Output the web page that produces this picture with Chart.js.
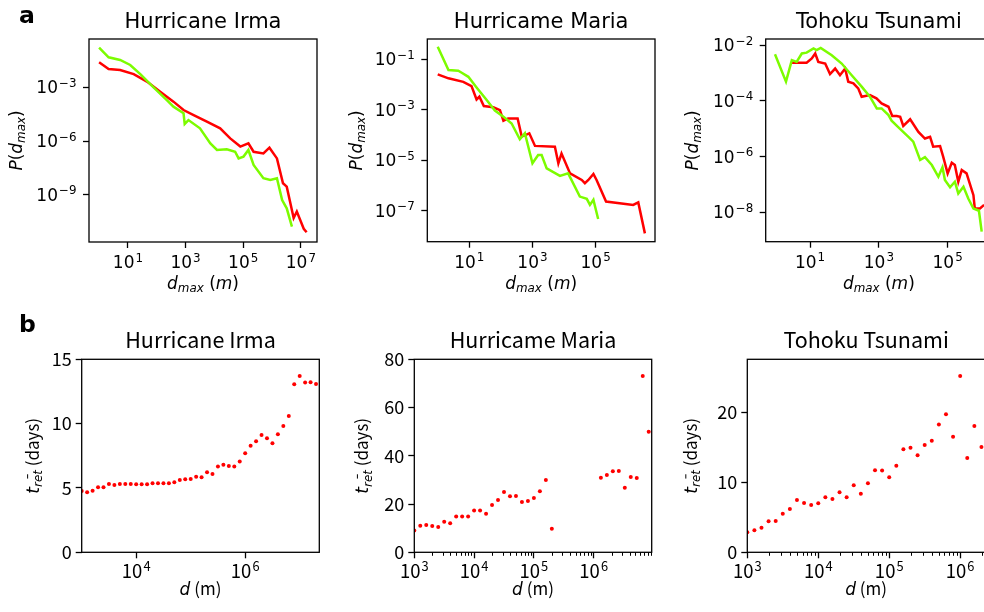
<!DOCTYPE html>
<html>
<head>
<meta charset="utf-8">
<title>Displacement distributions and return times</title>
<script src="https://cdn.jsdelivr.net/npm/chart.js@4.4.1/dist/chart.umd.min.js"></script>
<style>
  html, body { margin: 0; padding: 0; background: #fff; overflow: hidden; }
  body { width: 984px; height: 612px; position: relative; }
  canvas { position: absolute; left: 0; top: 0; }
</style>
</head>
<body>
<canvas id="a1" width="1000" height="612"></canvas>
<canvas id="a2" width="1000" height="612"></canvas>
<canvas id="a3" width="1000" height="612"></canvas>
<canvas id="b1" width="1000" height="612"></canvas>
<canvas id="b2" width="1000" height="612"></canvas>
<canvas id="b3" width="1000" height="612"></canvas>
<script>
// ---- row a: P(d_max), both axes as log10 values ----
const irmaRedD   = [0.0, 0.33, 0.73, 1.2, 1.66, 2.12, 2.58, 2.93, 3.28, 3.74, 4.2, 4.55, 4.9, 5.18, 5.36, 5.7, 5.91, 6.17, 6.38, 6.51, 6.75, 6.86, 7.1, 7.2];
const irmaRedP   = [-1.6, -1.98, -2.03, -2.26, -2.68, -3.24, -3.8, -4.27, -4.55, -4.92, -5.29, -5.85, -6.31, -6.13, -6.6, -6.69, -6.37, -6.97, -8.36, -8.55, -10.3, -9.94, -10.9, -11.1];
const irmaGreenD = [0.0, 0.33, 0.73, 1.08, 1.43, 1.89, 2.35, 2.58, 2.93, 2.97, 3.1, 3.5, 3.86, 4.09, 4.43, 4.72, 4.84, 5.01, 5.18, 5.36, 5.7, 5.94, 6.17, 6.35, 6.51, 6.69];
const irmaGreenP = [-0.78, -1.32, -1.47, -1.75, -2.26, -3.0, -3.71, -4.08, -4.45, -5.05, -4.83, -5.29, -6.13, -6.5, -6.46, -6.6, -6.97, -6.87, -6.5, -7.34, -8.08, -8.18, -8.08, -9.3, -9.76, -10.78];

const mariaRedD   = [0.0, 0.34, 0.81, 1.07, 1.23, 1.32, 1.46, 1.76, 1.97, 2.08, 2.23, 2.53, 2.66, 2.9, 3.08, 3.71, 3.82, 3.92, 4.19, 4.56, 4.66, 4.77, 4.93, 5.03, 5.33, 6.19, 6.35, 6.56];
const mariaRedP   = [-1.59, -1.75, -1.89, -2.06, -2.59, -2.48, -2.85, -2.9, -3.01, -3.43, -3.34, -3.34, -4.06, -3.93, -4.43, -4.46, -5.12, -4.73, -5.52, -5.78, -5.91, -5.78, -5.54, -5.78, -6.64, -6.77, -6.67, -7.9];
const mariaGreenD = [0.0, 0.34, 0.65, 0.76, 0.97, 1.23, 1.55, 1.81, 2.08, 2.34, 2.6, 2.76, 3.0, 3.18, 3.29, 3.45, 3.87, 4.13, 4.5, 4.72, 4.82, 4.93, 5.08];
const mariaGreenP = [-0.5, -1.42, -1.45, -1.53, -1.69, -2.11, -2.61, -3.03, -3.27, -3.54, -4.17, -3.93, -5.12, -4.79, -4.79, -5.32, -5.62, -5.52, -6.44, -6.53, -6.77, -6.57, -7.33];

const tohokuRedD   = [0.47, 0.9, 1.05, 1.15, 1.24, 1.44, 1.58, 1.73, 1.87, 2.02, 2.11, 2.26, 2.4, 2.5, 2.74, 2.93, 3.08, 3.28, 3.39, 3.52, 3.62, 3.71, 3.91, 4.15, 4.34, 4.49, 4.58, 4.78, 4.87, 5.0, 5.12, 5.21, 5.31, 5.41, 5.55, 5.75, 5.79, 5.94, 6.06];
const tohokuRedP   = [-2.63, -2.63, -2.48, -2.3, -2.6, -2.66, -3.04, -2.84, -3.08, -2.84, -3.31, -3.37, -3.55, -3.85, -3.79, -3.91, -4.09, -4.21, -4.54, -4.54, -4.57, -4.9, -4.66, -5.11, -5.35, -5.29, -5.64, -5.62, -6.0, -6.6, -6.22, -6.3, -6.9, -6.48, -6.6, -7.38, -7.86, -7.86, -7.73];
const tohokuGreenD = [-0.02, 0.3, 0.47, 0.61, 0.76, 0.9, 1.1, 1.19, 1.31, 1.63, 1.92, 2.21, 2.5, 2.74, 2.94, 3.08, 3.28, 3.37, 3.57, 3.86, 4.0, 4.2, 4.34, 4.54, 4.73, 4.85, 4.92, 5.07, 5.21, 5.31, 5.46, 5.6, 5.75, 5.91, 5.99];
const tohokuGreenP = [-2.33, -3.31, -2.54, -2.6, -2.3, -2.27, -2.12, -2.18, -2.1, -2.36, -2.66, -3.08, -3.49, -3.85, -4.27, -4.27, -4.51, -4.71, -4.95, -5.29, -5.46, -6.12, -6.02, -6.3, -6.72, -6.38, -6.84, -7.1, -6.9, -7.32, -7.08, -7.5, -7.86, -7.94, -8.69];

// ---- row b: mean return time (days) against log10 d ----
const irmaLogD = [3.0, 3.1, 3.2, 3.3, 3.4, 3.5, 3.6, 3.7, 3.8, 3.9, 4.0, 4.1, 4.2, 4.3, 4.4, 4.5, 4.6, 4.7, 4.8, 4.9, 5.0, 5.1, 5.2, 5.3, 5.4, 5.5, 5.6, 5.7, 5.8, 5.9, 6.0, 6.1, 6.2, 6.3, 6.4, 6.5, 6.6, 6.7, 6.8, 6.9, 7.0, 7.1, 7.2, 7.3];
const irmaRet  = [4.77, 4.66, 4.79, 5.05, 5.05, 5.31, 5.23, 5.31, 5.31, 5.31, 5.28, 5.28, 5.28, 5.36, 5.36, 5.36, 5.36, 5.44, 5.62, 5.67, 5.7, 5.88, 5.83, 6.22, 6.09, 6.66, 6.81, 6.71, 6.66, 7.05, 7.69, 8.29, 8.63, 9.12, 8.86, 8.47, 9.17, 9.82, 10.6, 13.06, 13.7, 13.19, 13.21, 13.08];

const mariaLogD = [3.0, 3.1, 3.2, 3.3, 3.4, 3.5, 3.6, 3.7, 3.8, 3.9, 4.0, 4.1, 4.2, 4.3, 4.4, 4.5, 4.6, 4.7, 4.8, 4.9, 5.0, 5.1, 5.2, 5.3, 6.12, 6.22, 6.32, 6.42, 6.52, 6.62, 6.72, 6.82, 6.92];
const mariaRet  = [9.0, 11.05, 11.3, 10.9, 10.5, 12.7, 12.0, 14.8, 14.8, 14.8, 17.3, 17.3, 16.0, 19.6, 21.7, 25.0, 23.2, 23.3, 20.9, 21.3, 22.5, 25.3, 30.0, 9.8, 30.9, 32.0, 33.6, 33.7, 26.8, 31.2, 30.8, 73.1, 50.0];

const tohokuLogD = [3.0, 3.1, 3.2, 3.3, 3.4, 3.5, 3.6, 3.7, 3.8, 3.9, 4.0, 4.1, 4.2, 4.3, 4.4, 4.5, 4.6, 4.7, 4.8, 4.9, 5.0, 5.1, 5.2, 5.3, 5.4, 5.5, 5.6, 5.7, 5.8, 5.9, 6.0, 6.1, 6.2, 6.3];
const tohokuRet  = [2.86, 3.14, 3.52, 4.43, 4.48, 5.52, 6.19, 7.48, 7.05, 6.76, 7.0, 7.86, 7.62, 8.57, 7.86, 9.57, 8.38, 9.86, 11.71, 11.67, 10.71, 12.38, 14.71, 14.95, 13.86, 15.33, 15.95, 18.24, 19.71, 16.52, 25.19, 13.48, 18.05, 15.05];

// tick labels (exponents for the log axes, plain values for linear ones)
const irmaXTicks = [1, 3, 5, 7],  irmaYTicks = [-3, -6, -9];
const mariaXTicks = [1, 3, 5],    mariaYTicks = [-1, -3, -5, -7];
const tohokuXTicks = [1, 3, 5],   tohokuYTicks = [-2, -4, -6, -8];
const irmaRetXTicks = [4, 6],          irmaRetYTicks = [0, 5, 10, 15];
const mariaRetXTicks = [3, 4, 5, 6],   mariaRetYTicks = [0, 20, 40, 60, 80];
const tohokuRetXTicks = [3, 4, 5, 6],  tohokuRetYTicks = [0, 10, 20];

const titles = ['Hurricane Irma', 'Hurricame Maria', 'Tohoku Tsunami'];

const RED = '#ff0000', GREEN = '#7cfc00', INK = '#000000';
const W = 1000, H = 612;
const SANS = 'DejaVu Sans', CJK = 'Noto Sans CJK JP';

const logPts = (xs, ys) => xs.map((x, i) => ({ x: Math.pow(10, x), y: Math.pow(10, ys[i]) }));
const linPts = (xs, ys) => xs.map((x, i) => ({ x: Math.pow(10, x), y: ys[i] }));

// "10" with a raised exponent, like mathtext
function drawPow(ctx, e, x, y, align, fam, size) {
  const exp = e < 0 ? '\u2212' + (-e) : String(e);
  const base = size + 'px "' + fam + '"';
  const sup = (size * 0.7).toFixed(1) + 'px "' + fam + '"';
  ctx.font = base; const w1 = ctx.measureText('10').width;
  ctx.font = sup;  const w2 = ctx.measureText(exp).width;
  const total = w1 + 1 + w2;
  const x0 = align === 'center' ? x - total / 2 : x - total;
  ctx.textAlign = 'left'; ctx.textBaseline = 'alphabetic';
  ctx.font = base; ctx.fillText('10', x0, y);
  ctx.font = sup;  ctx.fillText(exp, x0 + w1 + 1, y - size * 0.38);
}

// mixed italic / subscript label, centred on x, baseline at y
function drawRich(ctx, segs, x, y, fam, size, rotated) {
  const parts = segs.map(s => {
    const sz = s.sub ? size * 0.7 : size;
    const f = (s.it ? 'italic ' : '') + sz.toFixed(1) + 'px "' + (s.math ? SANS : fam) + '"';
    ctx.font = f;
    return { s, f, w: ctx.measureText(s.t).width };
  });
  const total = parts.reduce((a, p) => a + p.w, 0);
  ctx.save();
  ctx.translate(x, y);
  if (rotated) ctx.rotate(-Math.PI / 2);
  ctx.textAlign = 'left'; ctx.textBaseline = 'alphabetic';
  let cx = -total / 2;
  for (const p of parts) {
    ctx.font = p.f;
    ctx.fillText(p.s.t, cx, p.s.sub ? size * 0.2 : 0);
    if (p.s.bar) {
      ctx.lineWidth = 1;
      ctx.beginPath();
      ctx.moveTo(cx + p.w * 0.5, -size * 0.64);
      ctx.lineTo(cx + p.w * 0.5 + 4.3, -size * 0.64);
      ctx.stroke();
    }
    cx += p.w;
  }
  ctx.restore();
}

const decor = {
  id: 'decor',
  afterDraw(chart, args, o) {
    const ctx = chart.ctx, a = chart.chartArea;
    const xs = chart.scales.x, ys = chart.scales.y;
    ctx.save();
    ctx.fillStyle = INK; ctx.strokeStyle = INK;

    if (o.minorX) {
      ctx.lineWidth = 1;
      const lo = Math.floor(Math.log10(xs.min)), hi = Math.ceil(Math.log10(xs.max));
      for (let n = lo; n <= hi; n++) {
        for (let m = 2; m <= 9; m++) {
          const v = m * Math.pow(10, n);
          if (v < xs.min || v > xs.max) continue;
          const px = Math.round(xs.getPixelForValue(v)) + 0.5;
          ctx.beginPath(); ctx.moveTo(px, a.bottom); ctx.lineTo(px, a.bottom + 3.5); ctx.stroke();
        }
      }
    }
    if (o.powX) o.powX.forEach(e => drawPow(ctx, e, xs.getPixelForValue(Math.pow(10, e)), a.bottom + 26, 'center', o.fam, o.tickSize));
    if (o.powY) o.powY.forEach(e => drawPow(ctx, e, a.left - 12.5, ys.getPixelForValue(Math.pow(10, e)) + 6, 'right', o.fam, o.tickSize));

    ctx.lineWidth = 1.3;
    ctx.strokeRect(a.left, a.top, a.right - a.left, a.bottom - a.top);

    ctx.textAlign = 'center'; ctx.textBaseline = 'alphabetic';
    ctx.font = o.titleSize + 'px "' + o.fam + '"';
    ctx.fillText(o.title, (a.left + a.right) / 2, o.titleY);

    drawRich(ctx, o.xlab, (a.left + a.right) / 2, o.xlabY, o.fam, 17, false);
    drawRich(ctx, o.ylab, o.ylabX, (a.top + a.bottom) / 2, o.fam, 17, true);

    if (o.tag) {
      ctx.textAlign = 'left';
      ctx.font = 'bold 23.5px "' + SANS + '"';
      ctx.fillText(o.tag.text, o.tag.x, o.tag.y);
    }
    ctx.restore();
  }
};

function axis(type, min, max, box, side, tickVals, showLabels, fam) {
  return {
    type, min, max, bounds: 'data',
    afterBuildTicks: s => { s.ticks = tickVals.map(v => ({ value: v })); },
    afterFit: s => {
      if (side === 'x') s.height = H - box.b; else s.width = box.l;
      s.paddingLeft = s.paddingRight = s.paddingTop = s.paddingBottom = 0;
    },
    ticks: { display: showLabels, color: INK, padding: 4, font: { family: fam, size: 18 } },
    grid: { drawOnChartArea: false, drawTicks: true, tickLength: 6, tickColor: INK, tickWidth: 1.3 },
    border: { display: false }
  };
}

function panel(id, box, datasets, xAxis, yAxis, deco) {
  new Chart(document.getElementById(id), {
    type: 'scatter',
    data: { datasets },
    options: {
      responsive: false, animation: false, devicePixelRatio: 1, events: [],
      layout: { padding: { top: box.t, right: W - box.r, left: 0, bottom: 0 } },
      scales: { x: xAxis, y: yAxis },
      plugins: { legend: { display: false }, tooltip: { enabled: false }, decor: deco }
    },
    plugins: [decor]
  });
}

const lineSet = (data, color) => ({ data, showLine: true, borderColor: color, borderWidth: 2.5, pointRadius: 0, tension: 0 });
const dotSet = data => ({ data, pointRadius: 2, backgroundColor: RED, borderWidth: 0, clip: 0 });

const yLabA = [{ t: 'P', it: 1 }, { t: '(' }, { t: 'd', it: 1 }, { t: 'max', it: 1, sub: 1 }, { t: ')' }];
const xLabA = [{ t: 'd', it: 1 }, { t: 'max', it: 1, sub: 1 }, { t: ' (' }, { t: 'm', it: 1 }, { t: ')' }];
const yLabB = [{ t: 't', it: 1, math: 1 }, { t: 'ret', it: 1, sub: 1, math: 1, bar: 1 }, { t: ' (days)' }];
const xLabB = [{ t: 'd', it: 1, math: 1 }, { t: ' (m)' }];

const rowA = { fam: SANS, titleSize: 21, tickSize: 17, titleY: 28.3, xlab: xLabA, xlabY: 288.7, ylab: yLabA };
const rowB = { fam: CJK, titleSize: 21.5, tickSize: 18.5, titleY: 348.3, xlab: xLabB, xlabY: 595, ylab: yLabB };

// row a
const boxA1 = { l: 89, r: 317, t: 39, b: 242 };
panel('a1', boxA1,
  [lineSet(logPts(irmaGreenD, irmaGreenP), GREEN), lineSet(logPts(irmaRedD, irmaRedP), RED)],
  axis('logarithmic', Math.pow(10, -0.35), Math.pow(10, 7.56), boxA1, 'x', irmaXTicks.map(e => Math.pow(10, e)), false, SANS),
  axis('logarithmic', Math.pow(10, -11.64), Math.pow(10, -0.3), boxA1, 'y', irmaYTicks.map(e => Math.pow(10, e)), false, SANS),
  { ...rowA, title: titles[0], powX: irmaXTicks, powY: irmaYTicks, ylabX: 22, tag: { text: 'a', x: 19, y: 23.3 } });

const boxA2 = { l: 427.3, r: 655, t: 39, b: 241.7 };
panel('a2', boxA2,
  [lineSet(logPts(mariaGreenD, mariaGreenP), GREEN), lineSet(logPts(mariaRedD, mariaRedP), RED)],
  axis('logarithmic', Math.pow(10, -0.33), Math.pow(10, 6.88), boxA2, 'x', mariaXTicks.map(e => Math.pow(10, e)), false, SANS),
  axis('logarithmic', Math.pow(10, -8.23), Math.pow(10, -0.19), boxA2, 'y', mariaYTicks.map(e => Math.pow(10, e)), false, SANS),
  { ...rowA, title: titles[1], powX: mariaXTicks, powY: mariaYTicks, ylabX: 361.5 });

const boxA3 = { l: 765.7, r: 992, t: 39, b: 241.7 };
panel('a3', boxA3,
  [lineSet(logPts(tohokuGreenD, tohokuGreenP), GREEN), lineSet(logPts(tohokuRedD, tohokuRedP), RED)],
  axis('logarithmic', Math.pow(10, -0.29), Math.pow(10, 6.29), boxA3, 'x', tohokuXTicks.map(e => Math.pow(10, e)), false, SANS),
  axis('logarithmic', Math.pow(10, -9.05), Math.pow(10, -1.78), boxA3, 'y', tohokuYTicks.map(e => Math.pow(10, e)), false, SANS),
  { ...rowA, title: titles[2], powX: tohokuXTicks, powY: tohokuYTicks, ylabX: 698 });

// row b
const boxB1 = { l: 81.7, r: 319.3, t: 359.3, b: 552.3 };
panel('b1', boxB1,
  [dotSet(linPts(irmaLogD, irmaRet))],
  axis('logarithmic', Math.pow(10, 3.0), Math.pow(10, 7.36), boxB1, 'x', irmaRetXTicks.map(e => Math.pow(10, e)), false, CJK),
  axis('linear', 0, 15, boxB1, 'y', irmaRetYTicks, true, CJK),
  { ...rowB, title: titles[0], powX: irmaRetXTicks, ylabX: 38.5, tag: { text: 'b', x: 19, y: 331.7 } });

const boxB2 = { l: 414.3, r: 651.7, t: 359.3, b: 552.3 };
panel('b2', boxB2,
  [dotSet(linPts(mariaLogD, mariaRet))],
  axis('logarithmic', Math.pow(10, 3.0), Math.pow(10, 6.97), boxB2, 'x', mariaRetXTicks.map(e => Math.pow(10, e)), false, CJK),
  axis('linear', 0, 80, boxB2, 'y', mariaRetYTicks, true, CJK),
  { ...rowB, title: titles[1], powX: mariaRetXTicks, minorX: true, ylabX: 368.3 });

const boxB3 = { l: 747.3, r: 985, t: 359.3, b: 552.3 };
panel('b3', boxB3,
  [dotSet(linPts(tohokuLogD, tohokuRet))],
  axis('logarithmic', Math.pow(10, 3.0), Math.pow(10, 6.35), boxB3, 'x', tohokuRetXTicks.map(e => Math.pow(10, e)), false, CJK),
  axis('linear', 0, 27.57, boxB3, 'y', tohokuRetYTicks, true, CJK),
  { ...rowB, title: titles[2], powX: tohokuRetXTicks, minorX: true, ylabX: 696.7 });
</script>
</body>
</html>
